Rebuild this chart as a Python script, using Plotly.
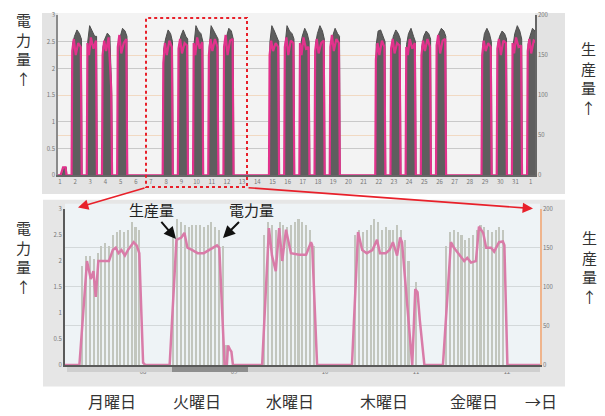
import plotly.graph_objects as go

# ==========================
# Data
# ==========================
# --- upper chart: one month, each day described by a few points ---
top_day_labels = ["1", "2", "3", "4", "5", "6", "7", "8", "9", "10", "11", "12", "13", "14", "15", "16",
                  "17", "18", "19", "20", "21", "22", "23", "24", "25", "26", "27", "28", "29", "30", "31", "1"]
top_power_hours = [7, 8, 11, 15, 19, 22, 23]        # hour of day for the power points
top_prod_hours = [6.5, 7.5, 10, 13, 17, 21, 22.5]   # hour of day for the production points

top_power = [  # 電力量 (left axis)
    [0, 0, 0, 0, 0.15, 0.15, 0],
    [0, 2.45, 2.6, 2.72, 2.65, 2.55, 0],
    [0, 2.5, 2.8, 2.7, 2.6, 2.6, 0],
    [0, 2.4, 2.55, 2.66, 2.6, 1.5, 0],
    [0, 2.45, 2.6, 2.75, 2.7, 2.6, 0],
    [0, 0, 0, 0, 0, 0, 0],
    [0, 0, 0, 0, 0, 0, 0],
    [0, 2.35, 2.55, 2.72, 2.65, 2.5, 0],
    [0, 2.4, 2.6, 2.72, 2.6, 2.55, 0],
    [0, 2.45, 2.8, 2.7, 2.65, 2.5, 0],
    [0, 2.4, 2.8, 2.7, 2.6, 2.55, 0],
    [0, 2.45, 2.6, 2.75, 2.7, 2.55, 0],
    [0, 0, 0, 0, 0, 0, 0],
    [0, 0, 0, 0, 0, 0, 0],
    [0, 2.5, 2.8, 2.7, 2.6, 2.5, 0],
    [0, 2.45, 2.8, 2.7, 2.65, 2.55, 0],
    [0, 2.4, 2.6, 2.75, 2.65, 2.5, 0],
    [0, 2.45, 2.65, 2.8, 2.7, 2.55, 0],
    [0, 2.4, 2.6, 2.75, 2.65, 2.6, 0],
    [0, 0, 0, 0, 0, 0, 0],
    [0, 0, 0, 0, 0, 0, 0],
    [0, 2.45, 2.7, 2.72, 2.6, 2.5, 0],
    [0, 2.4, 2.6, 2.72, 2.65, 2.55, 0],
    [0, 2.45, 2.65, 2.75, 2.6, 2.5, 0],
    [0, 2.4, 2.6, 2.7, 2.65, 2.55, 0],
    [0, 2.45, 2.65, 2.75, 2.7, 2.6, 0],
    [0, 0, 0, 0, 0, 0, 0],
    [0, 0, 0, 0, 0, 0, 0],
    [0, 2.4, 2.65, 2.75, 2.65, 2.5, 0],
    [0, 2.45, 2.6, 2.7, 2.65, 2.55, 0],
    [0, 2.4, 2.65, 2.8, 2.7, 2.55, 0],
    [0, 2.45, 2.6, 2.75, 2.7, 2.6, 0],
]

top_prod = [  # 生産量 (right axis)
    [0, 0, 0, 0, 10, 10, 0],
    [0, 155, 170, 150, 165, 160, 0],
    [0, 165, 150, 172, 158, 168, 0],
    [0, 150, 168, 155, 172, 110, 0],
    [0, 160, 175, 152, 165, 170, 0],
    [0, 0, 0, 0, 0, 0, 0],
    [0, 0, 0, 0, 0, 0, 0],
    [0, 140, 165, 150, 168, 160, 0],
    [0, 158, 170, 152, 165, 162, 0],
    [0, 165, 150, 172, 158, 166, 0],
    [0, 150, 170, 155, 170, 160, 0],
    [0, 160, 175, 150, 168, 170, 0],
    [0, 0, 0, 0, 0, 0, 0],
    [0, 0, 0, 0, 0, 0, 0],
    [0, 150, 168, 155, 165, 160, 0],
    [0, 160, 172, 150, 168, 165, 0],
    [0, 165, 150, 172, 158, 160, 0],
    [0, 155, 170, 152, 165, 168, 0],
    [0, 160, 175, 155, 170, 165, 0],
    [0, 0, 0, 0, 0, 0, 0],
    [0, 0, 0, 0, 0, 0, 0],
    [0, 145, 165, 150, 168, 160, 0],
    [0, 158, 170, 152, 165, 162, 0],
    [0, 160, 150, 170, 158, 165, 0],
    [0, 150, 168, 155, 170, 160, 0],
    [0, 162, 175, 152, 168, 170, 0],
    [0, 0, 0, 0, 0, 0, 0],
    [0, 0, 0, 0, 0, 0, 0],
    [0, 150, 168, 155, 165, 160, 0],
    [0, 158, 170, 150, 168, 165, 0],
    [0, 165, 152, 172, 160, 162, 0],
    [0, 155, 170, 152, 168, 166, 0],
]

# --- lower chart: Monday..Friday, hours counted from Monday 0:00 ---
bottom_power_hours = [8, 9, 10, 11, 12, 13, 14, 15, 16, 17, 18, 19, 20, 21, 22, 23,
                      32, 33, 34, 35, 36, 37, 38, 39, 40, 41, 42, 43, 44, 45, 46,
                      56, 57, 58, 59, 60, 61, 62, 63, 64, 65, 66, 67, 68, 69,
                      80, 81, 82, 83, 84, 85, 86, 87, 88, 89, 90, 91, 92, 93, 94, 96,
                      104, 105, 106, 107, 108, 109, 110, 111, 112, 113, 114, 115, 116, 117, 118, 119]
bottom_power = [1.9, 2.1, 2.1, 2.05, 2.15, 2.3, 2.35, 2.3, 2.5, 2.55, 2.6, 2.55, 2.6, 2.75, 2.65, 2.6,
                2.6, 2.8, 2.75, 2.7, 2.65, 2.7, 2.7, 2.7, 2.65, 2.7, 2.75, 2.65, 2.6, 2.3, 0.4,
                2.5, 2.75, 2.7, 2.6, 2.75, 2.7, 2.65, 2.7, 2.75, 2.8, 2.75, 2.7, 2.6, 2.3,
                2.5, 2.6, 2.55, 2.6, 2.7, 2.8, 2.75, 2.6, 2.65, 2.6, 2.6, 2.7, 2.6, 2.4, 2.0, 1.6,
                2.3, 2.55, 2.6, 2.55, 2.5, 2.4, 2.45, 2.5, 2.6, 2.7, 2.65, 2.6, 2.55, 2.6, 2.65, 2.6]

bottom_prod_hours = [0, 7.2, 9.2, 10.2, 10.9, 11.5, 12.2, 13.0, 15.0, 16.0, 16.8, 17.5, 18.3, 19.2, 20.0,
                     21.5, 22.3, 23.0, 24.0, 24.6,
                     31.0, 32.8, 34.1, 34.9, 35.7, 37.0, 38.4, 40.0, 41.4, 42.5, 43.5, 44.1, 45.1, 45.5,
                     46.1, 46.4, 46.9, 47.3, 47.7,
                     55.4, 57.2, 58.0, 59.0, 59.9, 60.7, 61.7, 63.0, 65.2, 67.0, 68.3, 68.6, 69.9,
                     79.1, 80.7, 81.8, 83.0, 84.5, 85.7, 86.5, 88.0, 89.0, 89.9, 91.0, 91.8, 92.3, 95.0,
                     95.8, 96.4, 97.0, 98.2,
                     103.1, 105.2, 106.0, 107.1, 107.9, 108.7, 109.5, 110.5, 111.8, 112.6, 113.7, 114.5,
                     115.8, 116.6, 117.9, 118.9, 119.3, 120.1, 128.7]
bottom_prod = [0, 0, 133, 110, 120, 87, 133, 133, 133, 147, 150, 143, 147, 140, 147,
               157, 153, 143, 3, 0,
               0, 160, 163, 169, 150, 147, 143, 143, 147, 150, 153, 150, 39, 0,
               0, 25, 20, 17, 0,
               0, 175, 140, 120, 175, 133, 173, 143, 141, 141, 157, 153, 0,
               0, 170, 147, 143, 147, 160, 143, 143, 147, 157, 140, 163, 157, 0,
               97, 93, 57, 0,
               0, 157, 150, 143, 139, 133, 137, 131, 133, 177, 169, 150,
               150, 145, 157, 158, 153, 0, 0]

bottom_tick_hours = [24, 48, 72, 96, 120]
bottom_tick_labels = ["08", "09", "10", "11", "12"]
day_names = ["月曜日", "火曜日", "水曜日", "木曜日", "金曜日", "→日"]

left_ticks = [0, 0.5, 1, 1.5, 2, 2.5, 3]
left_tick_labels = ["0", "0.5", "1", "1.5", "2", "2.5", "3"]
right_ticks = [0, 50, 100, 150, 200]

# ==========================
# Page geometry
# ==========================
# the page body keeps an 8px margin, so the figure is drawn 8px smaller
# and every position is given in window pixels shifted by that offset
OFF = 8
W, H = 605 - OFF, 416 - OFF
FONT = "Noto Sans CJK JP"

def px(x):
    return (x - OFF) / W

def py(y):
    return 1 - (y - OFF) / H

# ==========================
# Build upper chart series
# ==========================
top_px, top_py, top_qx, top_qy = [], [], [], []
for d in range(len(top_power)):
    for h, v in zip(top_power_hours, top_power[d]):
        top_px.append(24 * d + h)
        top_py.append(v)
    for h, v in zip(top_prod_hours, top_prod[d]):
        top_qx.append(24 * d + h)
        top_qy.append(v)

fig = go.Figure()

fig.add_trace(go.Scatter(x=top_px, y=top_py, xaxis="x", yaxis="y", mode="lines",
                         line=dict(color="#4e4e4e", width=1), fill="tozeroy",
                         fillcolor="#5e5e5e", showlegend=False, hoverinfo="skip"))
fig.add_trace(go.Scatter(x=top_qx, y=top_qy, xaxis="x", yaxis="y2", mode="lines",
                         line=dict(color="#e2328c", width=2.2), showlegend=False))

fig.add_trace(go.Bar(x=bottom_power_hours, y=bottom_power, xaxis="x2", yaxis="y3",
                     width=0.55, marker=dict(color="#c2c6be", line=dict(width=0)),
                     showlegend=False))
fig.add_trace(go.Scatter(x=bottom_prod_hours, y=bottom_prod, xaxis="x2", yaxis="y4", mode="lines",
                         line=dict(color="#d97ba8", width=2.5), showlegend=False))

# ==========================
# Axes
# ==========================
tiny = dict(size=6, color="#777777")
fig.update_layout(
    xaxis=dict(domain=[px(58), px(535)], range=[9, 763], anchor="y",
               tickvals=[24 * d + 12 for d in range(len(top_day_labels))],
               ticktext=top_day_labels, tickfont=tiny, showgrid=False,
               showline=True, linecolor="#666666", linewidth=1.5, zeroline=False, ticks=""),
    yaxis=dict(domain=[py(174), py(10)], range=[0, 3], anchor="x",
               tickvals=left_ticks, ticktext=left_tick_labels, tickfont=tiny,
               showgrid=True, gridcolor="#c9c9c9", gridwidth=1,
               showline=True, linecolor="#8a8a8a", linewidth=1.5, zeroline=False, ticks=""),
    yaxis2=dict(range=[0, 200], overlaying="y", side="right", anchor="x",
                tickvals=right_ticks, tickfont=tiny, showgrid=True, gridcolor="#f1d9c2",
                showline=True, linecolor="#666666", linewidth=1.5, zeroline=False, ticks=""),
    xaxis2=dict(domain=[px(65), px(540)], range=[3.4, 128.7], anchor="y3",
                tickvals=bottom_tick_hours, ticktext=bottom_tick_labels, tickfont=tiny,
                showgrid=False, showline=True, linecolor="#5a5a5a", linewidth=2,
                zeroline=False, ticks=""),
    yaxis3=dict(domain=[py(368), py(208)], range=[0, 3], anchor="x2",
                tickvals=left_ticks, ticktext=left_tick_labels, tickfont=tiny,
                showgrid=False, showline=True, linecolor="#5a5a5a", linewidth=2,
                zeroline=False, ticks=""),
    yaxis4=dict(range=[0, 200], overlaying="y3", side="right", anchor="x2",
                tickvals=right_ticks, tickfont=tiny, showgrid=True, gridcolor="#d3d8da",
                showline=True, linecolor="#efb48c", linewidth=1.5, zeroline=False, ticks=""),
    bargap=0,
    width=W, height=H,
    margin=dict(l=0, r=0, t=0, b=0),
    paper_bgcolor="white",
    plot_bgcolor="rgba(0,0,0,0)",
    font=dict(family=FONT, color="#333333"),
)

# ==========================
# Panels, box and arrows
# ==========================
shapes = [
    dict(type="rect", xref="paper", yref="paper", x0=px(42), x1=px(565), y0=py(193), y1=1,
         fillcolor="#e3e3e3", line=dict(width=0), layer="below"),
    dict(type="rect", xref="paper", yref="paper", x0=px(58), x1=px(535), y0=py(174), y1=py(8),
         fillcolor="#f3f3f3", line=dict(width=0), layer="below"),
    dict(type="rect", xref="paper", yref="paper", x0=px(43), x1=px(565), y0=py(390), y1=py(199),
         fillcolor="#e6e6e6", line=dict(width=0), layer="below"),
    dict(type="rect", xref="paper", yref="paper", x0=px(65), x1=px(540), y0=py(368), y1=py(203),
         fillcolor="#eef3f6", line=dict(width=0), layer="below"),
    # scroll bar under the lower chart
    dict(type="rect", xref="paper", yref="paper", x0=px(67), x1=px(540), y0=py(375), y1=py(370),
         fillcolor="#cfcfcf", line=dict(width=0)),
    dict(type="rect", xref="paper", yref="paper", x0=px(172), x1=px(248), y0=py(375), y1=py(370),
         fillcolor="#8e8e8e", line=dict(width=0)),
    # red dashed selection
    dict(type="rect", xref="paper", yref="paper", x0=px(146), x1=px(247), y0=py(186), y1=py(13),
         line=dict(color="#e8202a", width=2, dash="dot")),
]
fig.update_layout(shapes=shapes)

ann = []

def vertical(text, x, y):
    ann.append(dict(text="<br>".join(text), x=px(x), y=py(y), xref="paper", yref="paper",
                    showarrow=False, font=dict(size=15, family=FONT, color="#333333"),
                    xanchor="center", yanchor="middle"))

vertical("電力量↑", 23, 45)
vertical("電力量↑", 23, 257)
vertical("生産量↑", 588, 74)
vertical("生産量↑", 589, 268)

for name, x in zip(day_names, [112, 197, 290, 384, 474, 541]):
    ann.append(dict(text=name, x=px(x), y=py(405), xref="paper", yref="paper", showarrow=False,
                    font=dict(size=16, family=FONT, color="#333333"),
                    xanchor="center", yanchor="middle"))

# labels with black arrows in the lower chart
ann.append(dict(text="生産量", x=px(176), y=py(239), xref="paper", yref="paper",
                ax=-25, ay=-29, showarrow=True, arrowhead=2, arrowsize=1.2, arrowwidth=2,
                arrowcolor="#111111", font=dict(size=15, family=FONT, color="#222222")))
ann.append(dict(text="電力量", x=px(223), y=py(238), xref="paper", yref="paper",
                ax=28, ay=-28, showarrow=True, arrowhead=2, arrowsize=1.2, arrowwidth=2,
                arrowcolor="#111111", font=dict(size=15, family=FONT, color="#222222")))

# red arrows from the selection to the zoomed chart
ann.append(dict(text="", x=px(78), y=py(207), xref="paper", yref="paper",
                ax=68, ay=-20, showarrow=True, arrowhead=2, arrowsize=1.3, arrowwidth=1.6,
                arrowcolor="#e8202a"))
ann.append(dict(text="", x=px(533), y=py(208), xref="paper", yref="paper",
                ax=-286, ay=-21, showarrow=True, arrowhead=2, arrowsize=1.3, arrowwidth=1.6,
                arrowcolor="#e8202a"))

fig.update_layout(annotations=ann)

fig.write_html("out.html")
